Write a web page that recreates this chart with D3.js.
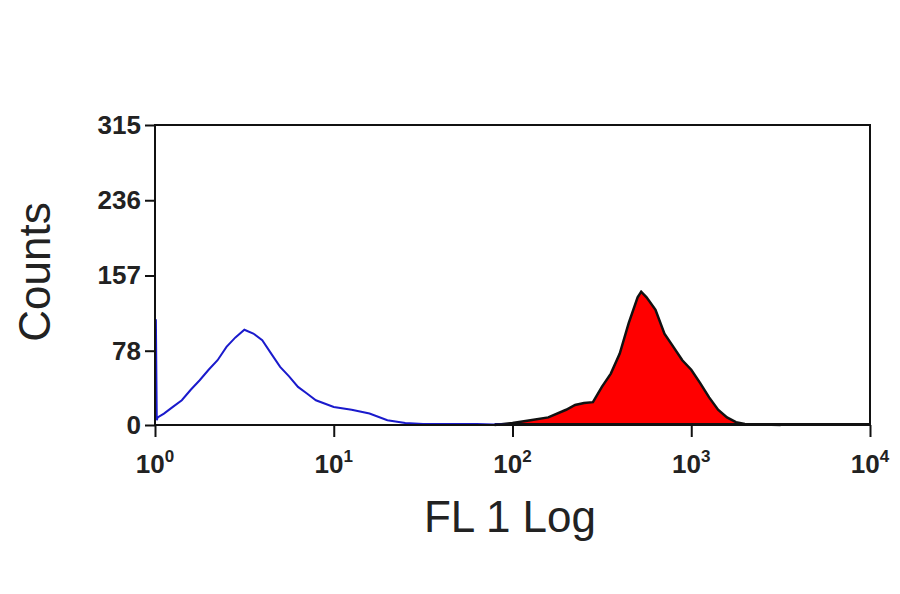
<!DOCTYPE html><html><head><meta charset="utf-8">
<script src="https://cdn.jsdelivr.net/npm/d3@7"></script>
<style>body{margin:0;background:#fff}</style></head><body><svg id="c" width="900" height="594"></svg>
<script>
const yTicks=[0,78,157,236,315];
const xDecades=[0,1,2,3,4];
const blueLog=[0,0.005,0.01,0.015,0.05,0.1,0.15,0.2,0.25,0.3,0.35,0.4,0.45,0.5,0.55,0.6,0.65,0.7,0.75,0.8,0.85,0.9,1.0,1.1,1.2,1.3,1.4,1.5,1.8,2.0];
const blueCnt=[110,110,5,8,12,19,26,37,47,58,68,82,92,100,96,89,75,61,51,40,33,26,19,16,12,5,2,1,1,0];
const redLog=[1.9,2.0,2.1,2.2,2.3,2.35,2.4,2.45,2.5,2.55,2.6,2.65,2.7,2.72,2.75,2.8,2.85,2.9,2.95,3.0,3.05,3.1,3.15,3.2,3.25,3.3,3.5];
const redCnt=[0,2,5,8,16,21,23,24,40,54,75,107,134,140,134,121,96,82,68,58,44,29,16,8,3,1,0];
const svg=d3.select("#c");
const L=155,R=870,T=125,B=425;
const x=d3.scaleLinear().domain([0,4]).range([L,R]);
const y=d3.scaleLinear().domain([0,315]).range([B,T]);
const f="Arial, 'Liberation Sans', sans-serif";
const area=d3.area().x((d,i)=>x(redLog[i])).y0(y(0)).y1(d=>y(d));
const line=d3.line().x((d,i)=>x(redLog[i])).y(d=>y(d));
svg.append("path").attr("d",area(redCnt)).attr("fill","#ff0000");
svg.append("path").attr("d",line(redCnt)).attr("fill","none").attr("stroke","#111").attr("stroke-width",2.5);
svg.append("line").attr("x1",x(1.9)).attr("x2",R).attr("y1",y(0)-1).attr("y2",y(0)-1).attr("stroke","#111").attr("stroke-width",2);
const bl=d3.line().x((d,i)=>x(blueLog[i])).y(d=>y(d));
svg.append("path").attr("d",bl(blueCnt)).attr("fill","none").attr("stroke","#1a1acc").attr("stroke-width",2);
svg.append("rect").attr("x",L).attr("y",T).attr("width",R-L).attr("height",B-T).attr("fill","none").attr("stroke","#111").attr("stroke-width",2);
const ya=svg.append("g").attr("transform",`translate(${L},0)`).call(d3.axisLeft(y).tickValues(yTicks).tickSize(10).tickPadding(4));
const xa=svg.append("g").attr("transform",`translate(0,${B})`).call(d3.axisBottom(x).tickValues(xDecades).tickSize(12).tickFormat(""));
[ya,xa].forEach(a=>{a.select(".domain").remove();a.selectAll("line").attr("stroke","#111").attr("stroke-width",2);});
ya.selectAll("text").attr("font-family",f).attr("font-size",26).attr("font-weight","bold").attr("fill","#222");
xDecades.forEach(d=>{const t=svg.append("text").attr("x",x(d)).attr("y",B+48).attr("text-anchor","middle").attr("font-family",f).attr("font-size",26).attr("font-weight","bold").attr("fill","#222");
t.append("tspan").text("10");t.append("tspan").attr("dy",-11).attr("font-size",17).text(d);});
svg.append("text").attr("x",510).attr("y",532).attr("text-anchor","middle").attr("font-family",f).attr("font-size",44).attr("fill","#222").text("FL 1 Log");
svg.append("text").attr("transform","translate(50,272) rotate(-90)").attr("text-anchor","middle").attr("font-family",f).attr("font-size",44).attr("fill","#222").text("Counts");
</script></body></html>
